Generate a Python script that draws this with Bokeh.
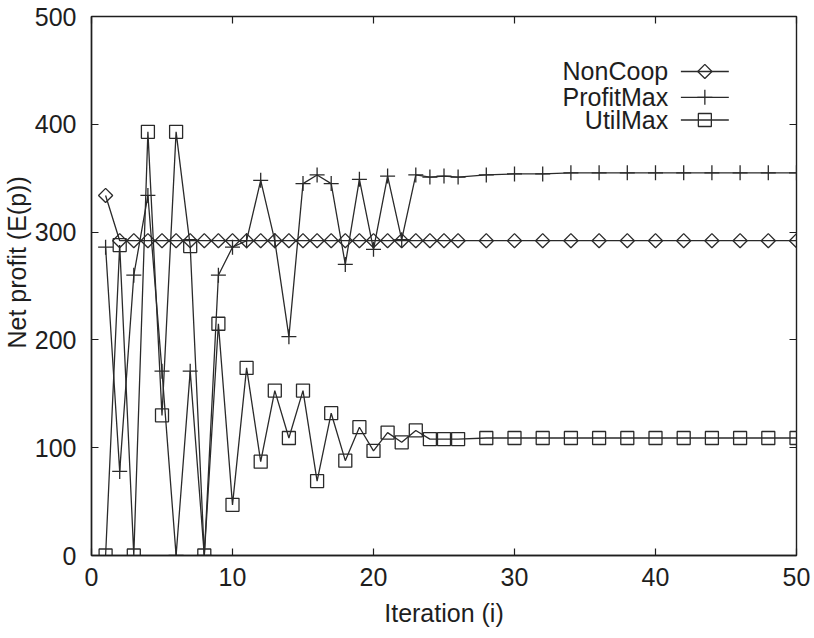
import math
from bokeh.plotting import figure
from bokeh.models import Range1d, LinearAxis, FixedTicker, ColumnDataSource, Title, CustomJSTickFormatter
from bokeh.core.properties import value
from bokeh.embed import file_html
from bokeh.resources import INLINE

# ---- data ----
iterations = [1, 2, 3, 4, 5, 6, 7, 8, 9, 10, 11, 12, 13, 14, 15, 16, 17, 18, 19, 20,
              21, 22, 23, 24, 25, 26, 28, 30, 32, 34, 36, 38, 40, 42, 44, 46, 48, 50]
noncoop = [334, 292, 292, 292, 292, 292, 292, 292, 292, 292, 292, 292, 292, 292, 292, 292,
           292, 292, 292, 292, 292, 292, 292, 292, 292, 292, 292, 292, 292, 292, 292, 292,
           292, 292, 292, 292, 292, 292]
profitmax = [286, 78, 260, 334, 171, 0, 171, 0, 260, 286, 292, 348, 292, 203, 345, 353,
             345, 270, 349, 284, 352, 293, 353, 351, 352, 351, 353, 354, 354, 355, 355, 355,
             355, 355, 355, 355, 355, 355]
utilmax = [0, 288, 0, 393, 130, 393, 287, 0, 215, 47, 174, 87, 153, 109, 153, 69,
           132, 88, 119, 97, 114, 105, 116, 108, 108, 108, 109, 109, 109, 109, 109, 109,
           109, 109, 109, 109, 109, 109]
series_names = ["NonCoop", "ProfitMax", "UtilMax"]
x_ticks = [0, 10, 20, 30, 40, 50]
y_ticks = [0, 100, 200, 300, 400, 500]
x_label = "Iteration (i)"
y_label = "Net profit (E(p))"

FONT = "Liberation Sans"
INK = "#1e1e1e"
LINE = "#2a2a2a"

p = figure(width=814, height=638, output_backend="svg", toolbar_location=None,
           x_range=Range1d(0, 50), y_range=Range1d(0, 500),
           min_border_left=91, min_border_right=18, min_border_top=16, min_border_bottom=83,
           background_fill_color="white", border_fill_color="white")
p.grid.visible = False
p.outline_line_color = INK
p.outline_line_width = 1.4

p.xaxis.ticker = FixedTicker(ticks=x_ticks)
p.yaxis.ticker = FixedTicker(ticks=y_ticks)
for ax in (p.xaxis[0], p.yaxis[0]):
    ax.axis_line_color = INK
    ax.axis_line_width = 1.4
    ax.major_tick_in = 7
    ax.major_tick_out = 0
    ax.major_tick_line_color = INK
    ax.major_tick_line_width = 1.2
    ax.minor_tick_line_color = None
    ax.major_label_text_font = FONT
    ax.major_label_text_font_size = "25px"
    ax.major_label_text_color = INK
p.xaxis.major_label_standoff = 12
p.yaxis.major_label_standoff = 15
p.xaxis.axis_label = x_label
p.xaxis.axis_label_text_font = FONT
p.xaxis.axis_label_text_font_size = "25px"
p.xaxis.axis_label_text_font_style = "normal"
p.xaxis.axis_label_text_color = INK
p.xaxis.axis_label_standoff = 10

# mirrored ticks on top and right (no labels)
blank = CustomJSTickFormatter(code="return ''")
top = LinearAxis(ticker=FixedTicker(ticks=x_ticks), formatter=blank,
                 major_tick_in=7, major_tick_out=0,
                 minor_tick_line_color=None, axis_line_color=None,
                 major_tick_line_color=INK, major_tick_line_width=1.2,
                 major_label_standoff=0)
right = LinearAxis(ticker=FixedTicker(ticks=y_ticks), formatter=blank,
                   major_tick_in=7, major_tick_out=0,
                   minor_tick_line_color=None, axis_line_color=None,
                   major_tick_line_color=INK, major_tick_line_width=1.2,
                   major_label_standoff=0)
p.add_layout(top, "above")
p.add_layout(right, "right")

# y axis label as a side title (sits over the tick-label area like the reference)
p.add_layout(Title(text=y_label, align="left", offset=207, vertical_align="middle",
                   standoff=0, text_font=FONT, text_font_size="25px",
                   text_font_style="normal", text_color=INK), "left")

src = ColumnDataSource(dict(x=iterations, nc=noncoop, pm=profitmax, um=utilmax))

styles = [
    dict(col="nc", marker="square", angle=math.pi / 4, size=10),
    dict(col="pm", marker="cross", angle=0.0, size=15),
    dict(col="um", marker="square", angle=0.0, size=13),
]
for st in styles:
    p.line("x", st["col"], source=src, line_color=LINE, line_width=1.3)
    p.scatter("x", st["col"], source=src, marker=st["marker"], angle=st["angle"],
              size=st["size"], line_color=LINE, line_width=1.3, fill_alpha=0)

# gnuplot-style key: text right-aligned, sample to the right
key_text_x = 40.9
key_x0, key_x1, key_xm = 41.8, 45.2, 43.5
key_rows = [449, 425, 404]
p.text(x=[key_text_x] * 3, y=key_rows, text=series_names, text_align="right",
       text_baseline="middle", text_font=value(FONT), text_font_size="25px",
       text_color=INK)
p.segment(x0=[key_x0] * 3, y0=key_rows, x1=[key_x1] * 3, y1=key_rows,
          line_color=LINE, line_width=1.3)
for st, ky in zip(styles, key_rows):
    p.scatter(x=[key_xm], y=[ky], marker=st["marker"], angle=st["angle"], size=st["size"],
              line_color=LINE, line_width=1.3, fill_alpha=0)

open("out.html", "w").write(file_html(p, INLINE))
